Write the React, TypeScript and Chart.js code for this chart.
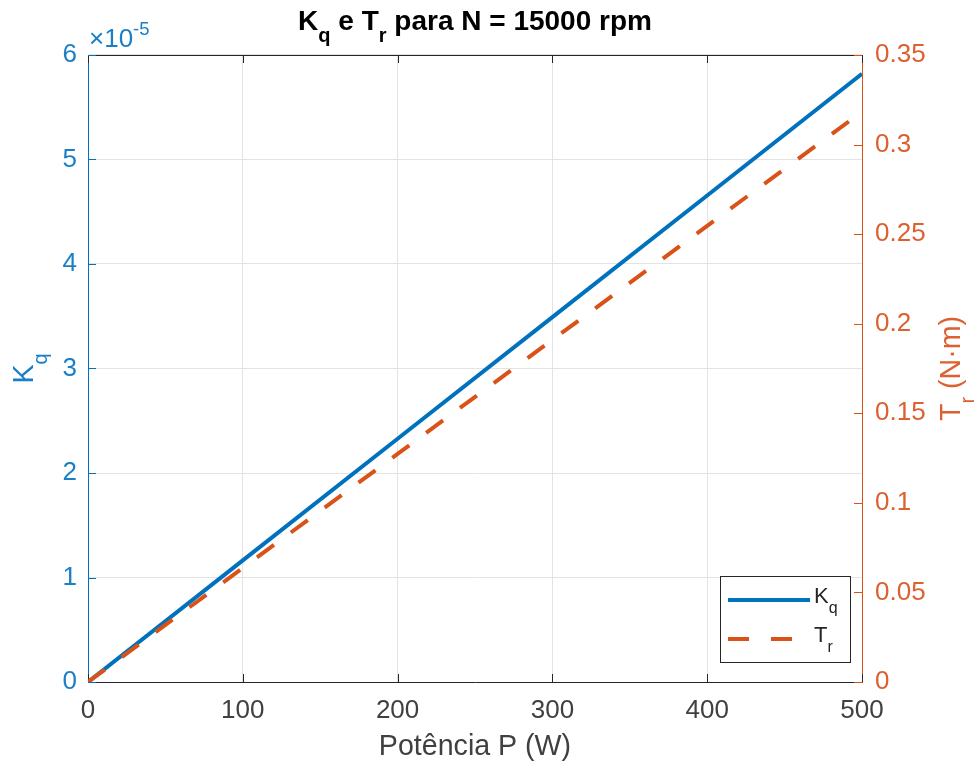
import React, { useEffect, useRef } from "react";
import { Chart, registerables } from "chart.js";
Chart.register(...registerables);

// ---- data ----
const powerW = [0, 100, 200, 300, 400, 500];
const kqValues = [0, 1.164e-5, 2.328e-5, 3.492e-5, 4.656e-5, 5.82e-5];
const trValues = [0, 0.0637, 0.1273, 0.191, 0.2546, 0.3183];
const xTickValues = [0, 100, 200, 300, 400, 500];
const kqTickValues = [0, 1, 2, 3, 4, 5, 6]; // × 10^-5
const trTickLabels = ["0", "0.05", "0.1", "0.15", "0.2", "0.25", "0.3", "0.35"];

const BLUE = "#0072BD";
const BLUE_TXT = "#1a7fc6";
const ORANGE = "#D95319";
const ORANGE_TXT = "#dc6030";
const DARK = "#262626";
const TXT = "#404040";
const GRID = "#e3e3e3";
const FONT = "'Liberation Sans', Arial, sans-serif";
const TICK_SIZE = 26;
const LABEL_SIZE = 28.6;

type Seg = { t: string; sub?: boolean; sup?: boolean };

function drawRich(
  ctx: CanvasRenderingContext2D,
  segs: Seg[],
  x: number,
  y: number,
  size: number,
  subSize: number,
  bold: boolean,
  color: string,
  align: "center" | "left",
  subOff = 0.45
) {
  const f = (s: number) => `${bold ? "bold " : ""}${s}px ${FONT}`;
  let total = 0;
  const widths = segs.map((s) => {
    ctx.font = f(s.sub || s.sup ? subSize : size);
    const w = ctx.measureText(s.t).width;
    total += w;
    return w;
  });
  let cx = align === "center" ? x - total / 2 : x;
  ctx.fillStyle = color;
  ctx.textBaseline = "alphabetic";
  ctx.textAlign = "left";
  segs.forEach((s, i) => {
    ctx.font = f(s.sub || s.sup ? subSize : size);
    const dy = s.sub ? size * subOff : s.sup ? -size * 0.45 : 0;
    ctx.fillText(s.t, cx, y + dy);
    cx += widths[i];
  });
}

const decorPlugin = {
  id: "decor",
  beforeDatasetsDraw(chart: any) {
    const { ctx, chartArea: a, scales } = chart;
    ctx.save();
    ctx.strokeStyle = DARK;
    ctx.lineWidth = 1;
    ctx.beginPath();
    ctx.moveTo(a.left, a.top + 0.5);
    ctx.lineTo(a.right, a.top + 0.5);
    ctx.stroke();
    const tl = 8;
    xTickValues.forEach((v) => {
      const px = Math.round(scales.x.getPixelForValue(v)) + 0.5;
      ctx.beginPath();
      ctx.moveTo(px, a.bottom);
      ctx.lineTo(px, a.bottom - tl);
      ctx.moveTo(px, a.top);
      ctx.lineTo(px, a.top + tl);
      ctx.stroke();
    });
    ctx.strokeStyle = BLUE;
    kqTickValues.forEach((v) => {
      const py = Math.round(scales.y.getPixelForValue(v * 1e-5)) + 0.5;
      ctx.beginPath();
      ctx.moveTo(a.left, py);
      ctx.lineTo(a.left + tl, py);
      ctx.stroke();
    });
    ctx.strokeStyle = ORANGE;
    trTickLabels.forEach((l) => {
      const py = Math.round(scales.y2.getPixelForValue(parseFloat(l))) + 0.5;
      ctx.beginPath();
      ctx.moveTo(a.right, py);
      ctx.lineTo(a.right - tl, py);
      ctx.stroke();
    });
    ctx.restore();
  },
  afterDraw(chart: any) {
    const { ctx, chartArea: a } = chart;
    ctx.save();
    const midX = (a.left + a.right) / 2;
    const midY = (a.top + a.bottom) / 2;
    drawRich(
      ctx,
      [{ t: "K" }, { t: "q", sub: true }, { t: " e T" }, { t: "r", sub: true }, { t: " para N = 15000 rpm" }],
      midX,
      30,
      28,
      20,
      true,
      "#000",
      "center",
      0.43
    );
    drawRich(ctx, [{ t: "×10" }, { t: "-5", sup: true }], a.left + 1, 47, TICK_SIZE, 18.5, false, BLUE_TXT, "left");
    ctx.font = `${LABEL_SIZE}px ${FONT}`;
    ctx.fillStyle = TXT;
    ctx.textAlign = "center";
    ctx.textBaseline = "alphabetic";
    ctx.fillText("Potência P (W)", midX, 755);
    ctx.save();
    ctx.translate(33, midY);
    ctx.rotate(-Math.PI / 2);
    drawRich(ctx, [{ t: "K" }, { t: "q", sub: true }], 0, 0, LABEL_SIZE, 20, false, BLUE_TXT, "center", 0.48);
    ctx.restore();
    ctx.save();
    ctx.translate(960, midY);
    ctx.rotate(-Math.PI / 2);
    drawRich(ctx, [{ t: "T" }, { t: "r", sub: true }, { t: " (N·m)" }], 0, 0, LABEL_SIZE, 20, false, ORANGE_TXT, "center", 0.48);
    ctx.restore();
    // legend
    const lx = 720.5,
      ly = 576.5,
      lw = 130,
      lh = 86;
    ctx.fillStyle = "#fff";
    ctx.fillRect(lx, ly, lw, lh);
    ctx.strokeStyle = DARK;
    ctx.lineWidth = 1;
    ctx.strokeRect(lx, ly, lw, lh);
    ctx.lineWidth = 4;
    ctx.strokeStyle = BLUE;
    ctx.beginPath();
    ctx.moveTo(728, 600);
    ctx.lineTo(810, 600);
    ctx.stroke();
    ctx.strokeStyle = ORANGE;
    ctx.setLineDash([21, 22]);
    ctx.beginPath();
    ctx.moveTo(728, 639);
    ctx.lineTo(810, 639);
    ctx.stroke();
    ctx.setLineDash([]);
    drawRich(ctx, [{ t: "K" }, { t: "q", sub: true }], 814, 603, 22, 16, false, DARK, "left", 0.45);
    drawRich(ctx, [{ t: "T" }, { t: "r", sub: true }], 814, 642, 22, 16, false, DARK, "left", 0.45);
    ctx.restore();
  },
};

export default function App() {
  const ref = useRef<HTMLCanvasElement>(null);
  useEffect(() => {
    document.body.style.margin = "0";
    const canvas = ref.current!;
    const chart = new Chart(canvas, {
      type: "line",
      data: {
        datasets: [
          {
            label: "Kq",
            data: powerW.map((p, i) => ({ x: p, y: kqValues[i] })),
            borderColor: BLUE,
            borderWidth: 4,
            pointRadius: 0,
            yAxisID: "y",
            tension: 0,
            order: 1,
          },
          {
            label: "Tr",
            data: powerW.map((p, i) => ({ x: p, y: trValues[i] })),
            borderColor: ORANGE,
            borderWidth: 4,
            borderDash: [21, 21],
            pointRadius: 0,
            yAxisID: "y2",
            tension: 0,
            order: 0,
          },
        ],
      },
      options: {
        animation: false,
        responsive: false,
        devicePixelRatio: 1,
        layout: { padding: { top: 55, left: 0, right: 0, bottom: 0 } },
        plugins: { legend: { display: false }, title: { display: false }, tooltip: { enabled: false } },
        scales: {
          x: {
            type: "linear",
            min: 0,
            max: 500,
            afterBuildTicks: (s: any) => {
              s.ticks = xTickValues.map((v) => ({ value: v }));
            },
            ticks: { color: TXT, font: { size: TICK_SIZE, family: FONT }, padding: 13, maxRotation: 0 },
            grid: { color: GRID, drawTicks: false },
            border: { color: DARK },
            afterFit: (s: any) => {
              s.height = 81;
            },
          },
          y: {
            position: "left",
            min: 0,
            max: 6e-5,
            afterBuildTicks: (s: any) => {
              s.ticks = kqTickValues.map((v) => ({ value: v * 1e-5 }));
            },
            ticks: {
              color: BLUE_TXT,
              font: { size: TICK_SIZE, family: FONT },
              padding: 11,
              callback: (v: any) => String(Math.round(Number(v) * 1e5)),
            },
            grid: { color: GRID, drawTicks: false },
            border: { color: BLUE },
            afterFit: (s: any) => {
              s.width = 88;
            },
          },
          y2: {
            position: "right",
            min: 0,
            max: 0.35,
            afterBuildTicks: (s: any) => {
              s.ticks = trTickLabels.map((l) => ({ value: parseFloat(l) }));
            },
            ticks: {
              color: ORANGE_TXT,
              font: { size: TICK_SIZE, family: FONT },
              padding: 13,
              callback: (v: any, i: number) => trTickLabels[i],
            },
            grid: { drawOnChartArea: false, drawTicks: false },
            border: { color: ORANGE },
            afterFit: (s: any) => {
              s.width = 116;
            },
          },
        },
      },
      plugins: [decorPlugin],
    });
    return () => chart.destroy();
  }, []);
  return (
    <div style={{ width: 978, height: 763, background: "#fff" }}>
      <canvas ref={ref} width={978} height={763} style={{ display: "block", width: 978, height: 763 }} />
    </div>
  );
}
